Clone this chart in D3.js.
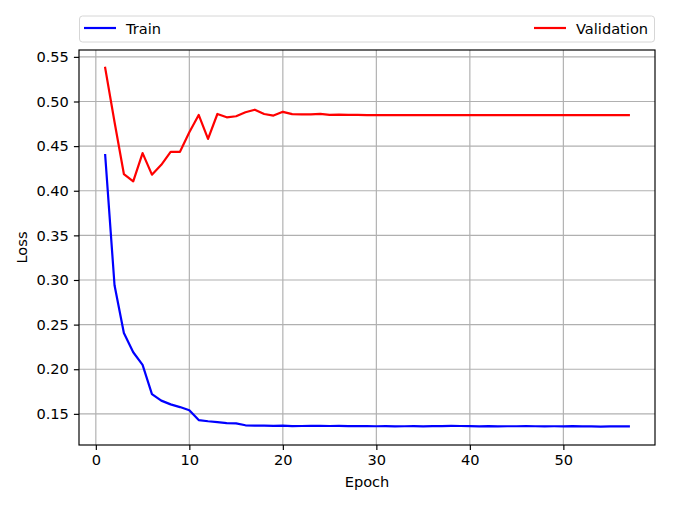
<!DOCTYPE html>
<html lang="en">
<head>
    <meta charset="UTF-8">
    <title>Train / Validation Loss</title>
    <style>
        body { margin: 0; background: #fff; }
        svg text { font-family: "DejaVu Sans", sans-serif; font-size: 14.6px; fill: #000; }
        .grid line { stroke: #b0b0b0; stroke-width: 1.17px; }
        .axis path, .axis line { stroke: #000; stroke-width: 1.17px; }
        .series { fill: none; stroke-width: 2.2px; stroke-linejoin: round; stroke-linecap: square; }
    </style>
</head>
<body>
    <div id="chart"></div>
    <script src="https://d3js.org/d3.v7.min.js"></script>
    <script>
        // loss per epoch
        const epochs = d3.range(1, 58);
        const trainLoss = [
            0.4399, 0.2941, 0.2405, 0.2190, 0.2048, 0.1722, 0.1648, 0.1606, 0.1576, 0.1540,
            0.1430, 0.1417, 0.1407, 0.1397, 0.1393, 0.1372, 0.1369, 0.1369, 0.1366, 0.1367,
            0.1363, 0.1364, 0.1365, 0.1366, 0.1364, 0.1365, 0.1363, 0.1362, 0.1363, 0.1361,
            0.1362, 0.1360, 0.1361, 0.1362, 0.1360, 0.1362, 0.1363, 0.1365, 0.1364, 0.1363,
            0.1360, 0.1362, 0.1359, 0.1361, 0.1361, 0.1362, 0.1361, 0.1360, 0.1361, 0.1360,
            0.1362, 0.1359, 0.1359, 0.1358, 0.1359, 0.1359, 0.1359
        ];
        const valLoss = [
            0.5377, 0.4770, 0.4187, 0.4105, 0.4422, 0.4180, 0.4291, 0.4436, 0.4436, 0.4656,
            0.4849, 0.4581, 0.4860, 0.4823, 0.4835, 0.4879, 0.4908, 0.4860, 0.4842, 0.4884,
            0.4858, 0.4856, 0.4856, 0.4862, 0.4850, 0.4852, 0.4850, 0.4850, 0.4848, 0.4848,
            0.4848, 0.4848, 0.4848, 0.4848, 0.4848, 0.4848, 0.4848, 0.4848, 0.4848, 0.4848,
            0.4848, 0.4848, 0.4848, 0.4848, 0.4848, 0.4848, 0.4848, 0.4848, 0.4848, 0.4848,
            0.4848, 0.4848, 0.4848, 0.4848, 0.4848, 0.4848, 0.4848
        ];
        const xTicks = [0, 10, 20, 30, 40, 50];
        const yTicks = [0.15, 0.20, 0.25, 0.30, 0.35, 0.40, 0.45, 0.50, 0.55];
        const yRange = [0.1151, 0.5577];
        const seriesNames = ["Train", "Validation"];
        const seriesColors = ["#0000ff", "#ff0000"];

        const W = 675, H = 507;
        const margin = { top: 50, right: 20, bottom: 62, left: 79 },
            width = W - margin.left - margin.right,
            height = H - margin.top - margin.bottom;

        const svg = d3.select("#chart").append("svg")
            .attr("width", W)
            .attr("height", H);

        const g = svg.append("g")
            .attr("transform", "translate(" + margin.left + "," + margin.top + ")");

        // matplotlib style 5% padding on x
        const xPad = (d3.max(epochs) - d3.min(epochs)) * 0.05;
        const x = d3.scaleLinear()
            .domain([d3.min(epochs) - xPad, d3.max(epochs) + xPad])
            .range([0, width]);
        const y = d3.scaleLinear()
            .domain(yRange)
            .range([height, 0]);

        // grid
        g.append("g").attr("class", "grid")
            .selectAll("line").data(xTicks).enter().append("line")
            .attr("x1", d => x(d)).attr("x2", d => x(d))
            .attr("y1", 0).attr("y2", height);
        g.append("g").attr("class", "grid")
            .selectAll("line").data(yTicks).enter().append("line")
            .attr("x1", 0).attr("x2", width)
            .attr("y1", d => y(d)).attr("y2", d => y(d));

        const line = d3.line()
            .x((d, i) => x(epochs[i]))
            .y(d => y(d));

        [trainLoss, valLoss].forEach((s, i) => {
            g.append("path")
                .attr("class", "series")
                .attr("stroke", seriesColors[i])
                .attr("d", line(s));
        });

        // frame
        g.append("rect")
            .attr("width", width).attr("height", height)
            .attr("fill", "none").attr("stroke", "#000").attr("stroke-width", 1.17);

        const xAxis = g.append("g").attr("class", "axis")
            .attr("transform", "translate(0," + height + ")")
            .call(d3.axisBottom(x).tickValues(xTicks).tickSize(5.1).tickPadding(5).tickFormat(d3.format("d")));
        xAxis.select(".domain").remove();
        xAxis.selectAll("text").style("font-size", "14.6px").style("font-family", "DejaVu Sans");

        const yAxis = g.append("g").attr("class", "axis")
            .call(d3.axisLeft(y).tickValues(yTicks).tickSize(5.1).tickPadding(5).tickFormat(d3.format(".2f")));
        yAxis.select(".domain").remove();
        yAxis.selectAll("text").style("font-size", "14.6px").style("font-family", "DejaVu Sans");

        svg.append("text")
            .attr("x", margin.left + width / 2)
            .attr("y", 487)
            .attr("text-anchor", "middle")
            .text("Epoch");

        svg.append("text")
            .attr("transform", "translate(27," + (margin.top + height / 2) + ") rotate(-90)")
            .attr("text-anchor", "middle")
            .text("Loss");

        // legend, spread across the top like mode="expand"
        const legend = svg.append("g");
        legend.append("rect")
            .attr("x", margin.left + 0.5).attr("y", 16)
            .attr("width", width - 1).attr("height", 26)
            .attr("rx", 3)
            .attr("fill", "#fff").attr("fill-opacity", 0.8)
            .attr("stroke", "#d6d6d6").attr("stroke-width", 1);

        legend.append("line")
            .attr("x1", 84).attr("x2", 116).attr("y1", 28).attr("y2", 28)
            .attr("stroke", seriesColors[0]).attr("stroke-width", 2.2);
        legend.append("text")
            .attr("x", 126).attr("y", 33.5)
            .text(seriesNames[0]);

        legend.append("line")
            .attr("x1", 534).attr("x2", 566).attr("y1", 28).attr("y2", 28)
            .attr("stroke", seriesColors[1]).attr("stroke-width", 2.2);
        legend.append("text")
            .attr("x", 576).attr("y", 33.5)
            .text(seriesNames[1]);
    </script>
</body>
</html>
